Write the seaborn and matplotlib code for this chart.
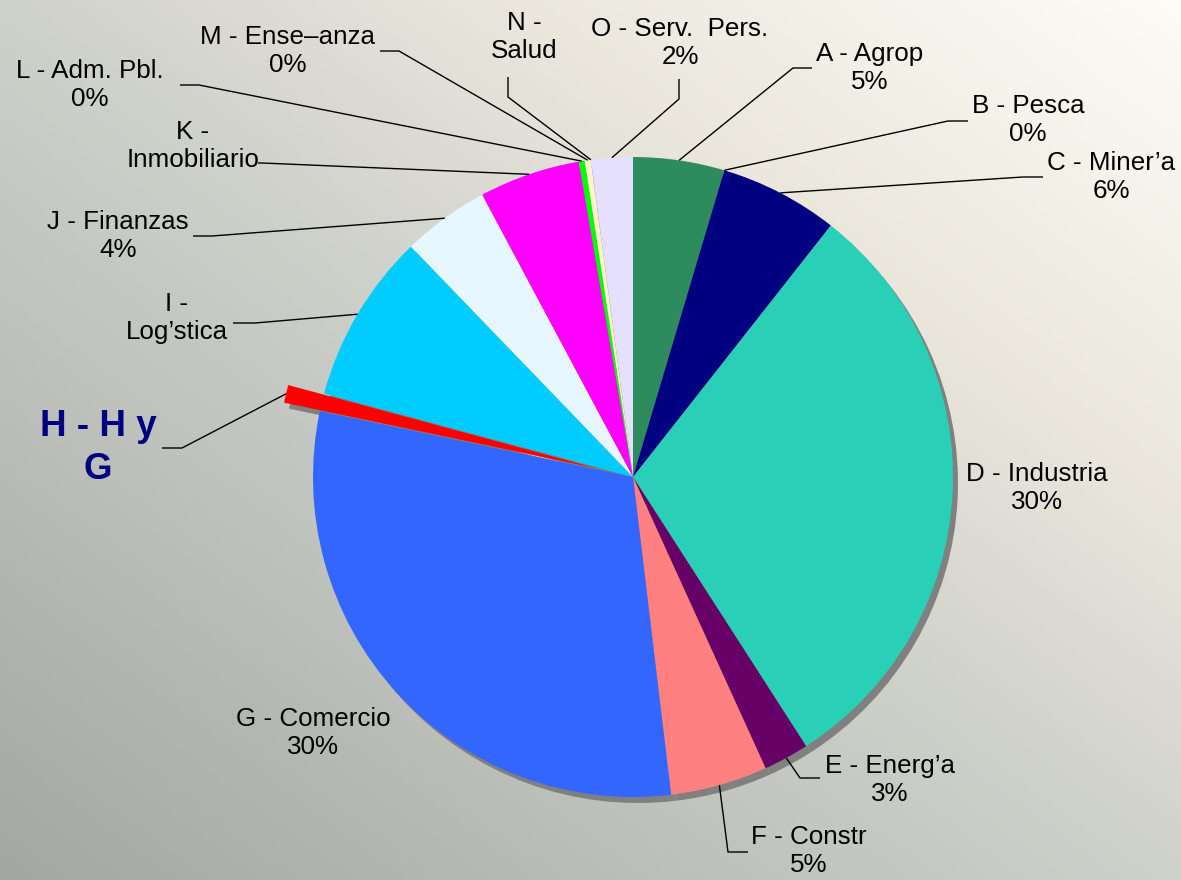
import numpy as np
import seaborn as sns
import matplotlib.pyplot as plt
from matplotlib.colors import LinearSegmentedColormap

# ----------------------------------------------------
# Data
# ----------------------------------------------------
SECTORS = ["A - Agrop", "B - Pesca", "C - Miner’a", "D - Industria", "E - Energ’a",
           "F - Constr", "G - Comercio", "H - H y\nG", "I -\nLog’stica", "J - Finanzas",
           "K -\nInmobiliario", "L - Adm. Pbl.", "M - Ense–anza", "N -\nSalud",
           "O - Serv.  Pers."]
SHARES = [4.6, 0.01, 6.0, 30.3, 2.3, 4.9, 30.2, 0.9, 8.6, 4.4, 5.1, 0.3, 0.3, 0.01, 2.1]
PCT_TEXT = ["5%", "0%", "6%", "30%", "3%", "5%", "30%", "", "", "4%", "", "0%", "0%", "", "2%"]
COLORS = ["#2e8b5e", "#1a4a6e", "#000080", "#2acfb8", "#660066", "#ff8080", "#3366ff",
          "#ff0000", "#00ccff", "#e6f7ff", "#ff00ff", "#00ff00", "#fff3c8", "#e6e0ff",
          "#e6e0ff"]
EXPLODE = [0, 0, 0, 0, 0, 0, 0, 0.115, 0, 0, 0, 0, 0, 0, 0]

# ----------------------------------------------------
# Layout (pixel positions on a 1181x880 canvas)
# ----------------------------------------------------
W, H = 1181, 880
CX, CY, R = 633, 477, 320

LABEL_POS = [(870, 68), (1028, 120), (1111, 177), (1037, 488), (890, 780),
             (809, 851), (313, 733), (98, 448), (177, 318), (118, 236),
             (193, 146), (90, 85), (288, 51), (524, 37), (680, 43)]
# leader line: elbow point, end point (None = no leader)
LEADERS = [((793, 68), (812, 68)), ((948, 121), (968, 121)), ((1023, 177), (1043, 177)),
           None, ((800, 778), (820, 778)), ((728, 852), (748, 852)), None,
           ((182, 448), (162, 448)), ((255, 323), (233, 323)), ((212, 236), (193, 236)),
           ((262, 163), (258, 163)), ((199, 85), (180, 85)), ((399, 51), (380, 51)),
           ((508, 97), (508, 77)), ((679, 99), (679, 79))]


def px(x, y):
    return (x - CX) / R, (CY - y) / R


sns.set_theme(style="white")
plt.rcParams["font.family"] = ["Liberation Sans", "DejaVu Sans"]

fig = plt.figure(figsize=(W / 100, H / 100), dpi=100)

# gradient background
bg = fig.add_axes([0, 0, 1, 1], zorder=0)
xx, yy = np.meshgrid(np.linspace(0, 1, 300), np.linspace(1, 0, 220))
t = (xx + yy) / 2
cmap = LinearSegmentedColormap.from_list(
    "bg", [(0, "#a3a8a4"), (0.5, "#cfd1cb"), (0.72, "#ebe7dd"), (1, "#fdfcf5")])
bg.imshow(t, cmap=cmap, aspect="auto", extent=[0, 1, 0, 1], vmin=0, vmax=1)
bg.axis("off")

ax = fig.add_axes([0, 0, 1, 1], zorder=1)
ax.patch.set_alpha(0)

# shadow
ax.pie(SHARES, colors=["#808080"] * len(SHARES), explode=EXPLODE, startangle=90,
       counterclock=False, radius=1, center=(5 / R, -6 / R),
       wedgeprops=dict(linewidth=0))
wedges, _ = ax.pie(SHARES, colors=COLORS, explode=EXPLODE, startangle=90,
                   counterclock=False, radius=1, center=(0, 0),
                   wedgeprops=dict(linewidth=0))

for i, w in enumerate(wedges):
    name = SECTORS[i]
    txt = name + ("\n" + PCT_TEXT[i] if PCT_TEXT[i] else "")
    lx, ly = px(*LABEL_POS[i])
    if name.startswith("H"):
        ax.text(lx, ly, txt, ha="center", va="center", fontsize=26.5,
                fontweight="bold", color="#000080", linespacing=1.3)
    else:
        ax.text(lx, ly, txt, ha="center", va="center", fontsize=18.7,
                color="black", linespacing=1.2)
    if LEADERS[i] is not None:
        mid = np.deg2rad((w.theta1 + w.theta2) / 2)
        ax0 = w.center[0] + w.r * np.cos(mid)
        ay0 = w.center[1] + w.r * np.sin(mid)
        (ex, ey), (fx, fy) = LEADERS[i]
        e = px(ex, ey)
        f = px(fx, fy)
        ax.plot([ax0, e[0], f[0]], [ay0, e[1], f[1]], color="black", lw=1.0,
                solid_capstyle="butt")

ax.set_xlim(-CX / R, (W - CX) / R)
ax.set_ylim(-(H - CY) / R, CY / R)
ax.set_aspect("auto")
ax.axis("off")

fig.savefig("out.png", dpi=100)
